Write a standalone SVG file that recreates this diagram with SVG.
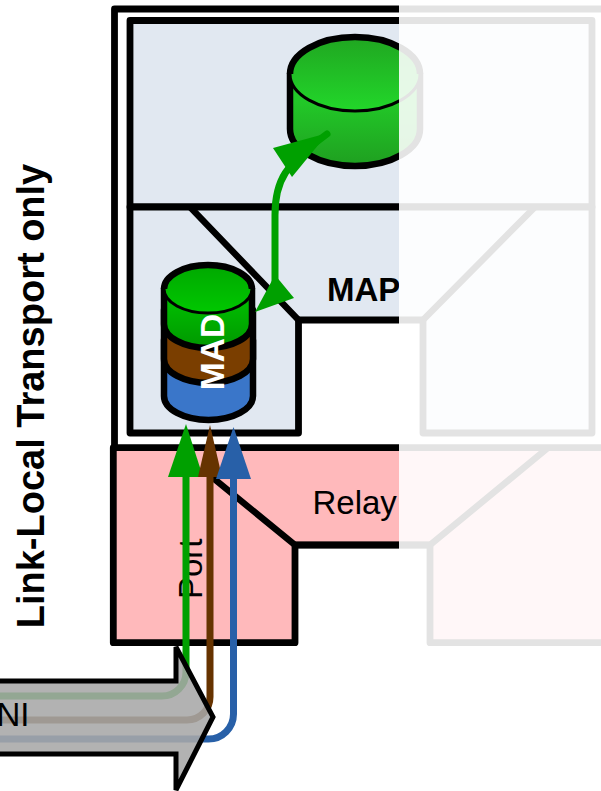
<svg xmlns="http://www.w3.org/2000/svg" width="601" height="791" viewBox="0 0 601 791">
<style>
.box{stroke:#000;stroke-width:6.8;stroke-linejoin:round;fill:none}
.cyl{stroke:#000;stroke-width:6.5;stroke-linejoin:round}
.thin{stroke:#000;stroke-width:3;fill:none}
.t{font-family:"Liberation Sans",Arial,sans-serif;font-size:33px;fill:#000}
.b{font-weight:bold}
.ln{fill:none;stroke-width:7}
</style>
<defs>
<linearGradient id="gTop" x1="0" y1="0" x2="0" y2="1"><stop offset="0" stop-color="#20a621"/><stop offset="1" stop-color="#22d72a"/></linearGradient>
<linearGradient id="gBody" x1="0" y1="0" x2="0" y2="1"><stop offset="0.3" stop-color="#22c828"/><stop offset="1" stop-color="#1f9f20"/></linearGradient>
<linearGradient id="mTop" x1="0" y1="0" x2="0" y2="1"><stop offset="0" stop-color="#00a800"/><stop offset="1" stop-color="#00c800"/></linearGradient>
<linearGradient id="mBody" x1="0" y1="0" x2="0" y2="1"><stop offset="0.3" stop-color="#00b800"/><stop offset="1" stop-color="#009800"/></linearGradient>
</defs>

<g id="outer-frame"><path class="box" d="M620 9H114.500V450"/></g>

<g id="relay-port">
<path d="M620 447.700H113.300V642.700H295V545H430V642.700H620" fill="#ffb9bb" stroke="none"/>
<path class="box" d="M620 447.700H113.300V642.700H295V545H430V642.700H620"/>
<path d="M207 473L295 545L430 545L548 447.700" fill="none" stroke="#000" stroke-width="6.500" stroke-linejoin="round"/>
<text class="t" x="312.500" y="514">Relay</text>
<text class="t" transform="translate(202 599) rotate(-90)">Port</text>
</g>

<g id="map-top"><rect class="box" x="130" y="20.500" width="462" height="186.500" style="fill:#e1e8f1"/></g>
<g id="map">
<path class="box" style="fill:#e1e8f1" d="M130 207H592V433H423V320H298.500V433H130Z"/>
<path d="M190 207L298.500 320M423 320L535 207" fill="none" stroke="#000" stroke-width="6.500"/>
<text class="t b" x="327" y="301">MAP</text>
</g>

<g id="database">
<path class="cyl" fill="url(#gBody)" d="M290 74V129A65 37 0 0 0 420 129V74Z"/>
<ellipse cx="355" cy="74" rx="65" ry="37" fill="url(#gTop)"/>
<path class="cyl" fill="none" d="M290 74A65 37 0 0 1 420 74"/>
<path class="thin" d="M290 74A65 37 0 0 0 420 74"/>
</g>

<g id="mad">
<path class="cyl" fill="#3a76c9" d="M164 340V396A44.500 24 0 0 0 253 396V340Z"/>
<path class="cyl" fill="#7a3e00" d="M164 310V359A44.500 24 0 0 0 253 359V310Z"/>
<path class="cyl" fill="url(#mBody)" d="M164 289V324A44 24 0 0 0 252 324V289Z"/>
<ellipse cx="208" cy="289" rx="44" ry="24" fill="url(#mTop)"/>
<path class="cyl" fill="none" d="M164 289A44 24 0 0 1 252 289"/>
<path class="thin" d="M164 289A44 24 0 0 0 252 289"/>
<text class="b" font-family="Liberation Sans, Arial, sans-serif" font-size="33.500" transform="translate(223.500 352) rotate(-90)" text-anchor="middle" fill="#fff">MAD</text>
</g>

<g id="link-label"><text class="b" font-family="Liberation Sans, Arial, sans-serif" font-size="38" transform="translate(44 396) rotate(-90)" text-anchor="middle">Link-Local Transport only</text></g>

<g id="connectors">
<path class="ln" stroke="#00a000" stroke-linecap="round" d="M275 285V215C275 180 285 165 327 134"/>
<polygon points="255,312 275,275 294,298" fill="#00a000"/>
<polygon points="328,133 273,148 292,177" fill="#00a000"/>
<path class="ln" stroke="#00a000" d="M186 470V672A24 24 0 0 1 162 696H-10"/>
<polygon points="186,424 168,477 203,477" fill="#00a000"/>
<path class="ln" stroke="#663300" d="M210 470V697A23 23 0 0 1 187 720H-10"/>
<polygon points="210,425 198,477 222,477" fill="#663300"/>
<path class="ln" stroke="#2860a8" d="M233.500 470V714A25 25 0 0 1 208.500 739H-10"/>
<polygon points="233.500,427 216,479 251,479" fill="#2860a8"/>
</g>

<g id="ni">
<path d="M-10 681H176V647L213 717L176 790V754H-10Z" fill="#a7a7a7" fill-opacity="0.88" stroke="#000" stroke-width="5" stroke-linejoin="miter"/>
<text class="t" x="-3.500" y="726">NI</text>
</g>

<rect id="fade" x="399" y="0" width="202" height="791" fill="#fff" fill-opacity="0.89"/>
</svg>
